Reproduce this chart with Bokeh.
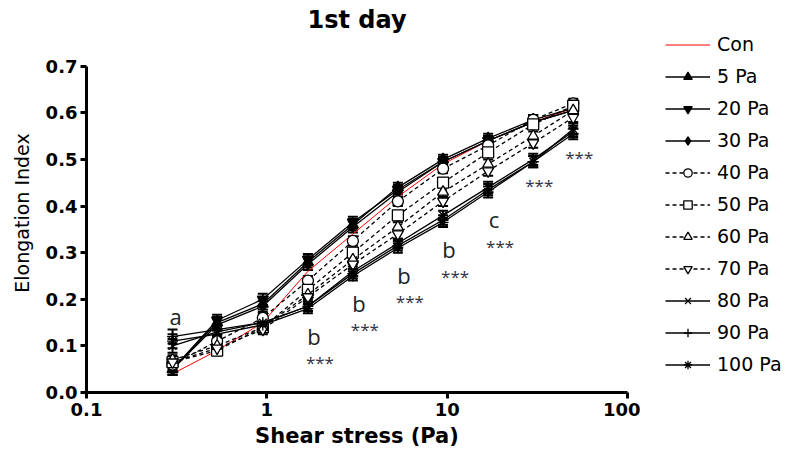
from bokeh.plotting import figure
from bokeh.layouts import row
from bokeh.models import (ColumnDataSource, Whisker, TeeHead, Legend, LegendItem,
                          Range1d, FixedTicker, Label)
from bokeh.embed import file_html
from bokeh.resources import INLINE

# Shear stress steps (Pa)
stress = [0.3, 0.53, 0.95, 1.69, 3.0, 5.33, 9.49, 16.87, 30.0, 50.0]

# Elongation index per pre-shear group (mean)
ei_con = [0.040, 0.090, 0.150, 0.260, 0.340, 0.420, 0.490, 0.540, 0.580, 0.610]
ei_5 = [0.050, 0.150, 0.190, 0.280, 0.360, 0.440, 0.500, 0.545, 0.585, 0.610]
ei_20 = [0.050, 0.155, 0.200, 0.285, 0.365, 0.435, 0.495, 0.540, 0.580, 0.605]
ei_30 = [0.050, 0.145, 0.185, 0.275, 0.355, 0.430, 0.495, 0.540, 0.580, 0.605]
ei_40 = [0.060, 0.110, 0.160, 0.240, 0.325, 0.410, 0.480, 0.530, 0.585, 0.620]
ei_50 = [0.065, 0.090, 0.140, 0.220, 0.300, 0.380, 0.450, 0.515, 0.575, 0.615]
ei_60 = [0.070, 0.100, 0.140, 0.210, 0.285, 0.355, 0.430, 0.490, 0.550, 0.605]
ei_70 = [0.065, 0.095, 0.135, 0.205, 0.275, 0.340, 0.410, 0.475, 0.535, 0.590]
ei_80 = [0.100, 0.130, 0.150, 0.185, 0.260, 0.320, 0.380, 0.440, 0.500, 0.560]
ei_90 = [0.120, 0.135, 0.150, 0.185, 0.255, 0.315, 0.370, 0.435, 0.495, 0.555]
ei_100 = [0.110, 0.125, 0.145, 0.180, 0.250, 0.310, 0.365, 0.430, 0.495, 0.565]

# Standard error of the mean per group
sem_con = [0.015, 0.010, 0.010, 0.010, 0.010, 0.010, 0.008, 0.008, 0.008, 0.008]
sem_5 = [0.012, 0.012, 0.012, 0.012, 0.012, 0.010, 0.010, 0.010, 0.010, 0.010]
sem_20 = [0.012, 0.012, 0.012, 0.012, 0.012, 0.010, 0.010, 0.010, 0.010, 0.010]
sem_30 = [0.012, 0.012, 0.012, 0.012, 0.012, 0.010, 0.010, 0.010, 0.010, 0.010]
sem_40 = [0.010, 0.010, 0.010, 0.010, 0.010, 0.010, 0.010, 0.010, 0.010, 0.010]
sem_50 = [0.010, 0.010, 0.010, 0.010, 0.010, 0.010, 0.010, 0.010, 0.010, 0.010]
sem_60 = [0.010, 0.010, 0.010, 0.010, 0.010, 0.010, 0.010, 0.010, 0.010, 0.010]
sem_70 = [0.010, 0.010, 0.010, 0.010, 0.010, 0.010, 0.010, 0.010, 0.010, 0.010]
sem_80 = [0.015, 0.012, 0.010, 0.010, 0.010, 0.010, 0.010, 0.012, 0.012, 0.012]
sem_90 = [0.015, 0.012, 0.010, 0.010, 0.010, 0.010, 0.010, 0.012, 0.012, 0.012]
sem_100 = [0.015, 0.012, 0.010, 0.010, 0.010, 0.010, 0.010, 0.012, 0.012, 0.012]

labels = ["Con", "5 Pa", "20 Pa", "30 Pa", "40 Pa", "50 Pa", "60 Pa",
          "70 Pa", "80 Pa", "90 Pa", "100 Pa"]

# Significance annotations per stress step
sig_letters = ["a", "", "", "b", "b", "b", "b", "c", "", ""]
sig_stars = ["", "", "", "***", "***", "***", "***", "***", "***", "***"]

y_ticks = [0.0, 0.1, 0.2, 0.3, 0.4, 0.5, 0.6, 0.7]
x_ticks = [0.1, 1, 10, 100]

means = [ei_con, ei_5, ei_20, ei_30, ei_40, ei_50, ei_60, ei_70, ei_80, ei_90, ei_100]
sems = [sem_con, sem_5, sem_20, sem_30, sem_40, sem_50, sem_60, sem_70, sem_80, sem_90, sem_100]

# marker, fill colour, line dash, line colour for each group (None = line only)
styles = [
    (None, None, "solid", "red"),
    ("triangle", "black", "solid", "black"),
    ("inverted_triangle", "black", "solid", "black"),
    ("diamond", "black", "solid", "black"),
    ("circle", "white", "4 3", "black"),
    ("square", "white", "4 3", "black"),
    ("triangle", "white", "4 3", "black"),
    ("inverted_triangle", "white", "4 3", "black"),
    ("x", "black", "solid", "black"),
    ("cross", "black", "solid", "black"),
    ("asterisk", "black", "solid", "black"),
]

FONT = "DejaVu Sans"
MSIZE = 11
NAN = float("nan")

# The frame reaches a little above 0.7 to leave room for the legend beside it;
# the axis line itself stops at 0.7.
p = figure(width=640, height=457, x_axis_type="log",
           x_range=Range1d(0.1, 100), y_range=Range1d(0, 0.77),
           output_backend="svg", toolbar_location=None,
           min_border_left=86, min_border_right=13,
           min_border_top=33, min_border_bottom=65,
           title="1st day")

p.title.text_font = FONT
p.title.text_font_size = "24px"
p.title.text_font_style = "bold"
p.title.text_color = "black"
p.title.text_line_height = 0.9
p.title.align = "center"
p.title.standoff = 0

p.outline_line_color = None
p.xgrid.visible = False
p.ygrid.visible = False

for ax in (p.xaxis[0], p.yaxis[0]):
    ax.axis_line_width = 3
    ax.major_tick_line_width = 3
    ax.major_tick_out = 6
    ax.major_tick_in = 0
    ax.minor_tick_line_color = None
    ax.major_label_text_font = FONT
    ax.major_label_text_font_style = "bold"
    ax.major_label_text_font_size = "18px"
    ax.major_label_text_color = "black"
    ax.axis_label_text_font = FONT
    ax.axis_label_text_color = "black"

p.xaxis.ticker = FixedTicker(ticks=x_ticks)
p.xaxis.major_label_overrides = {t: f"{t:g}" for t in x_ticks}
p.xaxis.axis_label = "Shear stress (Pa)"
p.xaxis.axis_label_text_font_style = "bold"
p.xaxis.axis_label_text_font_size = "21px"
p.xaxis.major_label_standoff = 4
p.xaxis.axis_label_standoff = 5

p.yaxis.ticker = FixedTicker(ticks=y_ticks)
p.yaxis.bounds = (0, 0.7)
p.yaxis.major_label_overrides = {t: f"{t:.1f}" for t in y_ticks}
p.yaxis.axis_label = "Elongation Index"
p.yaxis.axis_label_text_font_style = "normal"
p.yaxis.axis_label_text_font_size = "19px"
p.yaxis.major_label_standoff = 3
p.yaxis.axis_label_standoff = 10

# Side panel that holds the legend
lg = figure(width=156, height=457, x_range=Range1d(0, 1), y_range=Range1d(0, 1),
            output_backend="svg", toolbar_location=None,
            x_axis_location=None, y_axis_location=None,
            min_border=0)
lg.outline_line_color = None
lg.xgrid.visible = False
lg.ygrid.visible = False


def key_source():
    # a single undrawable point so the legend keys are rendered
    return ColumnDataSource(dict(x=[NAN], y=[NAN]))


items = []
for lab, m, s, (marker, fill, dash, color) in zip(labels, means, sems, styles):
    lower = [a - b for a, b in zip(m, s)]
    upper = [a + b for a, b in zip(m, s)]
    src = ColumnDataSource(dict(x=stress, y=m, lo=lower, hi=upper))
    if marker is None:
        p.line("x", "y", source=src, line_color=color, line_width=1)
        key_line = lg.line("x", "y", source=key_source(),
                           line_color=color, line_width=1.2)
        items.append(LegendItem(label=lab, renderers=[key_line]))
        continue
    p.line("x", "y", source=src, line_color=color, line_width=1.3, line_dash=dash)
    p.add_layout(Whisker(base="x", lower="lo", upper="hi", source=src,
                         line_color="black", line_width=2,
                         upper_head=TeeHead(size=10, line_width=2),
                         lower_head=TeeHead(size=10, line_width=2)))
    p.scatter("x", "y", source=src, marker=marker, size=MSIZE,
              fill_color=fill, line_color="black", line_width=1.3)
    key_line = lg.line("x", "y", source=key_source(), line_color=color,
                       line_width=1.3, line_dash=dash)
    key_mark = lg.scatter("x", "y", source=key_source(), marker=marker,
                          size=MSIZE, fill_color=fill, line_color="black",
                          line_width=1.3)
    items.append(LegendItem(label=lab, renderers=[key_line, key_mark]))

# Significance letters and stars beneath the lowest group at each step
for i, xv in enumerate(stress):
    low = min(m[i] for m in means)
    if sig_letters[i]:
        p.add_layout(Label(x=xv, y=low, text=sig_letters[i],
                           x_offset=(6 if i else 3), y_offset=(-27 if i else 58),
                           text_font="Open Sans", text_font_size="22px",
                           text_color="#222222", text_align="center",
                           text_baseline="middle"))
    if sig_stars[i]:
        p.add_layout(Label(x=xv, y=low, text=sig_stars[i],
                           x_offset=(12 if sig_letters[i] else 6),
                           y_offset=(-54 if sig_letters[i] else -24),
                           text_font="Open Sans", text_font_size="17px",
                           text_color="#333344", text_align="center",
                           text_baseline="middle"))

legend = Legend(items=items, location=(25, 17))
legend.label_text_font = FONT
legend.label_text_font_size = "19px"
legend.label_text_color = "black"
legend.glyph_width = 45
legend.glyph_height = 21
legend.label_height = 21
legend.spacing = 10
legend.label_standoff = 7
legend.padding = 0
legend.margin = 0
legend.border_line_alpha = 0
legend.background_fill_alpha = 0
lg.add_layout(legend)

layout = row(p, lg, spacing=0)
open("out.html", "w").write(file_html(layout, INLINE))
